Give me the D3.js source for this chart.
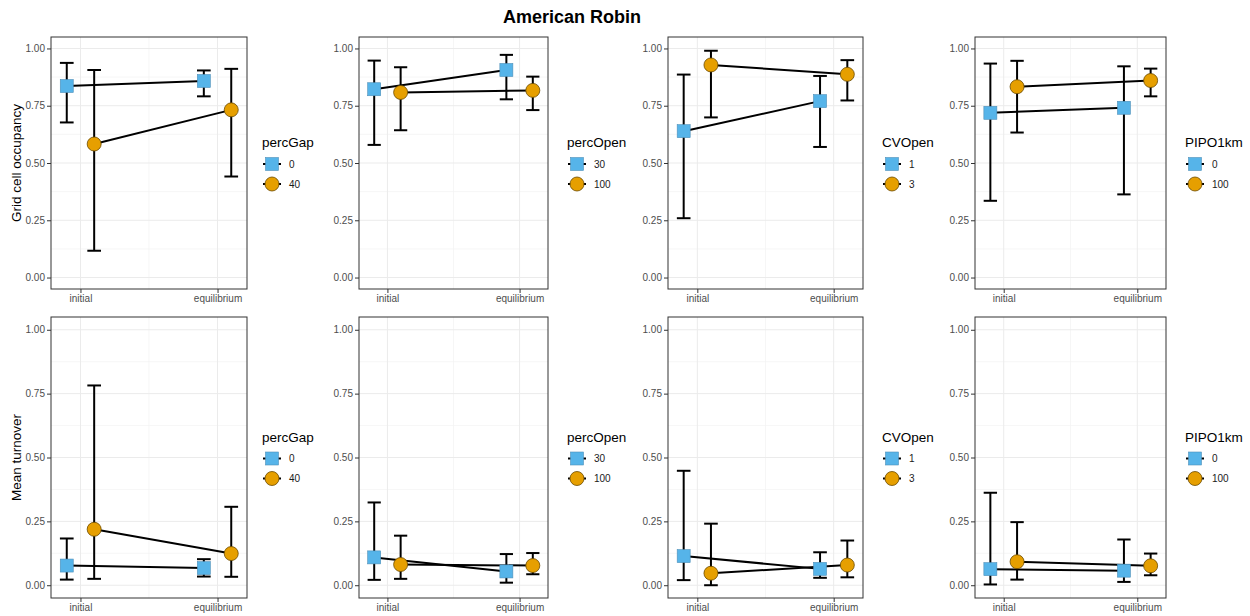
<!DOCTYPE html>
<html>
<head>
<meta charset="utf-8">
<script src="https://cdn.jsdelivr.net/npm/d3@7"></script>
<style>
  body { margin: 0; background: #fff; }
  svg { font-family: "Liberation Sans", Arial, sans-serif; }
</style>
</head>
<body>
<div id="cont"></div>
<script>
// data
var stages = ["initial", "equilibrium"];
var factors = ["percGap", "percOpen", "CVOpen", "PIPO1km"];
var levels = [["0", "40"], ["30", "100"], ["1", "3"], ["0", "100"]];
var metrics = ["Grid cell occupancy", "Mean turnover"];
var yTicks = [0, 0.25, 0.5, 0.75, 1];

// [factor][level][stage]
var occMean = [
  [[0.836, 0.858], [0.583, 0.732]],
  [[0.822, 0.906], [0.808, 0.817]],
  [[0.639, 0.770], [0.928, 0.887]],
  [[0.719, 0.741], [0.833, 0.860]]
];
var occLow = [
  [[0.677, 0.791], [0.117, 0.441]],
  [[0.579, 0.778], [0.643, 0.731]],
  [[0.259, 0.570], [0.699, 0.773]],
  [[0.335, 0.363], [0.633, 0.791]]
];
var occHigh = [
  [[0.937, 0.904], [0.906, 0.911]],
  [[0.947, 0.972], [0.918, 0.877]],
  [[0.886, 0.880], [0.990, 0.949]],
  [[0.934, 0.922], [0.946, 0.912]]
];
var turnMean = [
  [[0.077, 0.067], [0.219, 0.124]],
  [[0.109, 0.054], [0.081, 0.077]],
  [[0.114, 0.064], [0.047, 0.079]],
  [[0.063, 0.057], [0.092, 0.076]]
];
var turnLow = [
  [[0.022, 0.034], [0.025, 0.033]],
  [[0.021, 0.010], [0.025, 0.043]],
  [[0.020, 0.029], [0.000, 0.031]],
  [[0.003, 0.013], [0.022, 0.039]]
];
var turnHigh = [
  [[0.183, 0.102], [0.782, 0.307]],
  [[0.324, 0.122], [0.194, 0.126]],
  [[0.448, 0.129], [0.241, 0.175]],
  [[0.362, 0.179], [0.247, 0.124]]
];

var fills = ["#56B4E9", "#E69F00"];
var strokes = ["#4f8fb8", "#6b4a00"];

// panel geometry
var cols = [[51, 247], [359, 548], [668, 863], [975, 1166]];
var rows = [[37, 289], [317, 598]];
var dodge = 0.1, capHalf = 0.05;

var svg = d3.select("#cont").append("svg")
    .attr("width", 1250)
    .attr("height", 616);

svg.append("text")
    .attr("x", 572)
    .attr("y", 23)
    .attr("text-anchor", "middle")
    .style("font-size", "18px")
    .style("font-weight", "bold")
    .text("American Robin");

var sets = [
  {mean: occMean, low: occLow, high: occHigh},
  {mean: turnMean, low: turnLow, high: turnHigh}
];

rows.forEach(function(r, ri) {
  cols.forEach(function(c, ci) {
    var x = d3.scaleLinear().domain([0.785, 2.215]).range([c[0], c[1]]);
    var y = d3.scaleLinear().domain([-0.05, 1.05]).range([r[1], r[0]]);
    var g = svg.append("g");
    var set = sets[ri];

    // minor grid
    g.selectAll(".ymin").data([0.125, 0.375, 0.625, 0.875]).enter().append("line")
        .attr("x1", c[0]).attr("x2", c[1])
        .attr("y1", function(d) { return y(d); }).attr("y2", function(d) { return y(d); })
        .style("stroke", "#F2F2F2").style("stroke-width", 0.7);
    g.append("line")
        .attr("x1", x(1.5)).attr("x2", x(1.5))
        .attr("y1", r[0]).attr("y2", r[1])
        .style("stroke", "#F2F2F2").style("stroke-width", 0.7);
    // major grid
    g.selectAll(".ymaj").data(yTicks).enter().append("line")
        .attr("x1", c[0]).attr("x2", c[1])
        .attr("y1", function(d) { return y(d); }).attr("y2", function(d) { return y(d); })
        .style("stroke", "#EBEBEB").style("stroke-width", 1);
    g.selectAll(".xmaj").data([1, 2]).enter().append("line")
        .attr("x1", function(d) { return x(d); }).attr("x2", function(d) { return x(d); })
        .attr("y1", r[0]).attr("y2", r[1])
        .style("stroke", "#EBEBEB").style("stroke-width", 1);

    // axes
    var ya = g.append("g")
        .attr("transform", "translate(" + c[0] + ",0)")
        .call(d3.axisLeft(y).tickValues(yTicks).tickFormat(d3.format(".2f")).tickSize(4).tickPadding(2));
    var xa = g.append("g")
        .attr("transform", "translate(0," + r[1] + ")")
        .call(d3.axisBottom(x).tickValues([1, 2]).tickFormat(function(d) { return stages[d - 1]; }).tickSize(4).tickPadding(2));
    [ya, xa].forEach(function(a) {
      a.select(".domain").remove();
      a.selectAll("line").style("stroke", "#333333");
      a.selectAll("text").style("fill", "#4D4D4D").style("font-size", "10px")
          .style("font-family", "'Liberation Sans', Arial, sans-serif");
    });

    var pts = [];
    levels[ci].forEach(function(lv, li) {
      stages.forEach(function(s, si) {
        pts.push({li: li, xv: si + 1 + (li === 0 ? -dodge : dodge),
                  m: set.mean[ci][li][si], lo: set.low[ci][li][si], hi: set.high[ci][li][si]});
      });
    });

    // error bars
    var eb = g.selectAll(".eb").data(pts).enter().append("g")
        .style("stroke", "#000").style("stroke-width", 2).style("fill", "none");
    eb.append("line")
        .attr("x1", function(d) { return x(d.xv); }).attr("x2", function(d) { return x(d.xv); })
        .attr("y1", function(d) { return y(d.lo); }).attr("y2", function(d) { return y(d.hi); });
    eb.append("line")
        .attr("x1", function(d) { return x(d.xv - capHalf); }).attr("x2", function(d) { return x(d.xv + capHalf); })
        .attr("y1", function(d) { return y(d.lo); }).attr("y2", function(d) { return y(d.lo); });
    eb.append("line")
        .attr("x1", function(d) { return x(d.xv - capHalf); }).attr("x2", function(d) { return x(d.xv + capHalf); })
        .attr("y1", function(d) { return y(d.hi); }).attr("y2", function(d) { return y(d.hi); });

    // connecting lines
    var line = d3.line().x(function(d) { return x(d.xv); }).y(function(d) { return y(d.m); });
    [0, 1].forEach(function(li) {
      g.append("path")
          .datum(pts.filter(function(d) { return d.li === li; }))
          .attr("d", line)
          .style("fill", "none").style("stroke", "#000").style("stroke-width", 2);
    });

    // points
    pts.forEach(function(d) {
      drawPoint(g, x(d.xv), y(d.m), d.li);
    });

    // panel border
    g.append("rect")
        .attr("x", c[0]).attr("y", r[0])
        .attr("width", c[1] - c[0]).attr("height", r[1] - r[0])
        .style("fill", "none").style("stroke", "#333333").style("stroke-width", 1);

    // y title on first column
    if (ci === 0) {
      svg.append("text")
          .attr("transform", "translate(21," + ((r[0] + r[1]) / 2) + ") rotate(-90)")
          .attr("text-anchor", "middle")
          .style("font-size", "13.5px")
          .text(metrics[ri]);
    }

    // legend
    var mid = (r[0] + r[1]) / 2;
    var lx = c[1] + (ci === 0 ? 15 : 19);
    svg.append("text")
        .attr("x", lx).attr("y", mid - 16)
        .style("font-size", "13.5px")
        .text(factors[ci]);
    levels[ci].forEach(function(lv, li) {
      var ky = mid + 1 + li * 20;
      var kx = lx + 10;
      svg.append("line")
          .attr("x1", kx - 9).attr("x2", kx + 9)
          .attr("y1", ky).attr("y2", ky)
          .style("stroke", "#000").style("stroke-width", 2);
      drawPoint(svg, kx, ky, li);
      svg.append("text")
          .attr("x", kx + 17).attr("y", ky + 3.5)
          .style("font-size", "10px")
          .style("fill", "#1a1a1a")
          .text(lv);
    });
  });
});

function drawPoint(sel, cx, cy, li) {
  if (li === 0) {
    sel.append("rect")
        .attr("x", cx - 6.5).attr("y", cy - 6.5)
        .attr("width", 13).attr("height", 13)
        .style("fill", fills[0]).style("stroke", strokes[0]).style("stroke-width", 0.6);
  } else {
    sel.append("circle")
        .attr("cx", cx).attr("cy", cy).attr("r", 7)
        .style("fill", fills[1]).style("stroke", strokes[1]).style("stroke-width", 0.8);
  }
}
</script>
</body>
</html>
